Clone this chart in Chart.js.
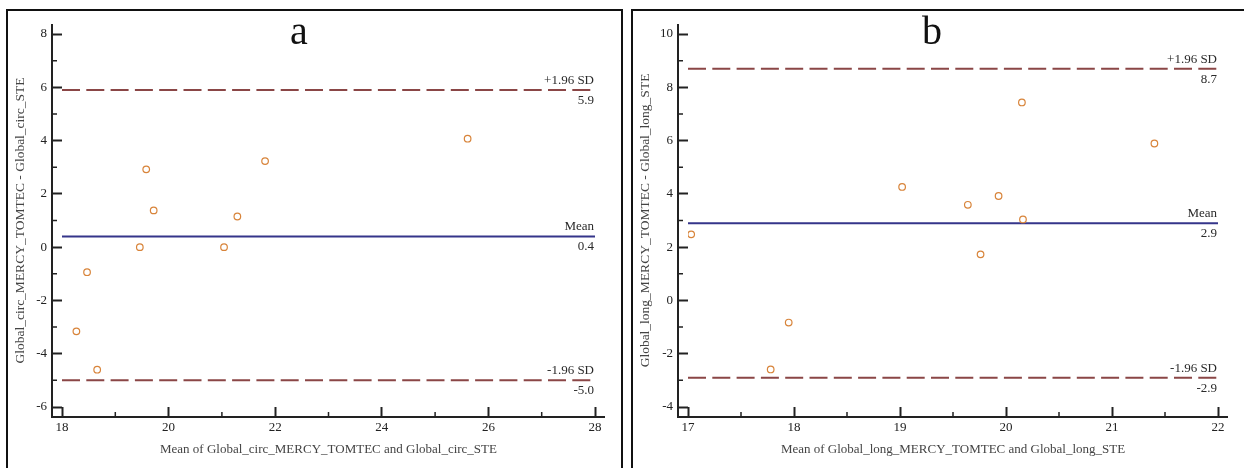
<!DOCTYPE html>
<html>
<head>
<meta charset="utf-8">
<script src="https://cdn.jsdelivr.net/npm/chart.js@4.4.1/dist/chart.umd.min.js"></script>
<style>
  body { margin: 0; background: #fff; width: 1244px; height: 468px; overflow: hidden; position: relative; }
  .panel { position: absolute; top: 9px; height: 470px; border: 2px solid #111; border-bottom: none; box-sizing: border-box; }
  #panel-a { left: 6px; width: 617px; }
  #panel-b { left: 631px; width: 620px; }
  .panel canvas { position: absolute; left: 0; top: 0; }
  .letter { position: absolute; top: 11px; font: 40px 'Liberation Serif', 'Times New Roman', serif; line-height: 40px; color: #111; }
</style>
</head>
<body>
<div class="panel" id="panel-a"><canvas id="chart-circ" width="613" height="457"></canvas></div>
<div class="panel" id="panel-b"><canvas id="chart-long" width="611" height="457"></canvas></div>
<div class="letter" style="left:290px">a</div>
<div class="letter" style="left:922px">b</div>
<script>
// circumferential strain: mean of both methods vs difference
var circMean = [18.27, 18.47, 18.66, 19.46, 19.58, 19.72, 21.04, 21.29, 21.81, 25.61];
var circDiff = [-3.16, -0.94, -4.60, 0.00, 2.92, 1.38, 0.00, 1.15, 3.23, 4.07];
var circLimits = [5.9, 0.4, -5.0];
var circXRange = [18, 28];
var circYRange = [-6, 8];

// longitudinal strain
var longMean = [17.03, 17.78, 17.95, 19.02, 19.64, 19.76, 19.93, 20.15, 20.16, 21.40];
var longDiff = [2.48, -2.59, -0.83, 4.26, 3.59, 1.73, 3.92, 7.43, 3.04, 5.89];
var longLimits = [8.7, 2.9, -2.9];
var longXRange = [17, 22];
var longYRange = [-4, 10];

var limitNames = ['+1.96 SD', 'Mean', '-1.96 SD'];

var serif = "'Liberation Serif', 'Times New Roman', serif";

// offset axis lines, minor ticks and the captions on the limit lines
var baFrame = {
    id: 'baFrame',
    afterDraw: function (chart, args, opts) {
        var ctx = chart.ctx;
        var area = chart.chartArea;
        var xs = chart.scales.x;
        var ys = chart.scales.y;
        var axX = area.left - 10;
        var axY = area.bottom + 10;
        ctx.save();
        ctx.strokeStyle = '#222';
        ctx.lineWidth = 2;
        ctx.beginPath();
        ctx.moveTo(axX, area.top - 10);
        ctx.lineTo(axX, axY);
        ctx.lineTo(area.right + 10, axY);
        ctx.stroke();

        ctx.lineWidth = 1.5;
        ctx.beginPath();
        for (var i = 0; i < xs.ticks.length - 1; i++) {
            var px = xs.getPixelForValue((xs.ticks[i].value + xs.ticks[i + 1].value) / 2);
            ctx.moveTo(px, axY);
            ctx.lineTo(px, axY - 5);
        }
        for (var j = 0; j < ys.ticks.length - 1; j++) {
            var py = ys.getPixelForValue((ys.ticks[j].value + ys.ticks[j + 1].value) / 2);
            ctx.moveTo(axX, py);
            ctx.lineTo(axX + 5, py);
        }
        ctx.stroke();

        ctx.font = '13px ' + serif;
        ctx.fillStyle = '#2a2a2a';
        ctx.textAlign = 'right';
        ctx.textBaseline = 'alphabetic';
        opts.limits.forEach(function (v, k) {
            var y = ys.getPixelForValue(v);
            ctx.fillText(limitNames[k], area.right - 1, y - 6);
            ctx.fillText(v.toFixed(1), area.right - 1, y + 14);
        });
        ctx.restore();
    }
};

function makePlot(id, means, diffs, limits, xRange, yRange, xStep, xTitle, yTitle, yWidth) {
    var points = means.map(function (m, i) {
        return {x: m, y: diffs[i]};
    });
    var datasets = [{
        data: points,
        pointRadius: 3.3,
        pointBorderWidth: 1.2,
        pointBorderColor: '#d8843a',
        pointBackgroundColor: '#fff',
        showLine: false
    }];
    limits.forEach(function (v, k) {
        datasets.push({
            data: [{x: xRange[0], y: v}, {x: xRange[1], y: v}],
            showLine: true,
            pointRadius: 0,
            borderWidth: 2,
            borderColor: k == 1 ? '#35358a' : '#8a4646',
            borderDash: k == 1 ? [] : [18, 6.3]
        });
    });

    var tickFont = {family: serif, size: 13};
    var titleFont = {family: serif, size: 13.5};

    return new Chart(document.getElementById(id), {
        type: 'scatter',
        data: {datasets: datasets},
        options: {
            responsive: false,
            animation: false,
            layout: {padding: {left: 0, top: 23, right: 26, bottom: 0}},
            plugins: {
                legend: {display: false},
                tooltip: {enabled: false},
                baFrame: {limits: limits}
            },
            scales: {
                x: {
                    type: 'linear',
                    min: xRange[0],
                    max: xRange[1],
                    ticks: {stepSize: xStep, font: tickFont, color: '#222', padding: 3},
                    grid: {drawOnChartArea: false, tickLength: 10, tickWidth: 2, tickColor: '#222'},
                    border: {display: false},
                    title: {display: true, text: xTitle, font: {family: serif, size: 13}, color: '#444', padding: {top: 0, bottom: 11}},
                    afterFit: function (s) { s.height = 61; }
                },
                y: {
                    type: 'linear',
                    min: yRange[0],
                    max: yRange[1],
                    ticks: {stepSize: 2, font: tickFont, color: '#222', padding: 5},
                    grid: {drawOnChartArea: false, tickLength: 10, tickWidth: 2, tickColor: '#222'},
                    border: {display: false},
                    title: {display: true, text: yTitle, font: titleFont, color: '#444', padding: {top: 4, bottom: 0}},
                    afterFit: function (s) { s.width = yWidth; }
                }
            }
        },
        plugins: [baFrame]
    });
}

makePlot('chart-circ', circMean, circDiff, circLimits, circXRange, circYRange, 2,
    'Mean of Global_circ_MERCY_TOMTEC and Global_circ_STE',
    'Global_circ_MERCY_TOMTEC - Global_circ_STE', 54);

makePlot('chart-long', longMean, longDiff, longLimits, longXRange, longYRange, 1,
    'Mean of Global_long_MERCY_TOMTEC and Global_long_STE',
    'Global_long_MERCY_TOMTEC - Global_long_STE', 55);
</script>
</body>
</html>
